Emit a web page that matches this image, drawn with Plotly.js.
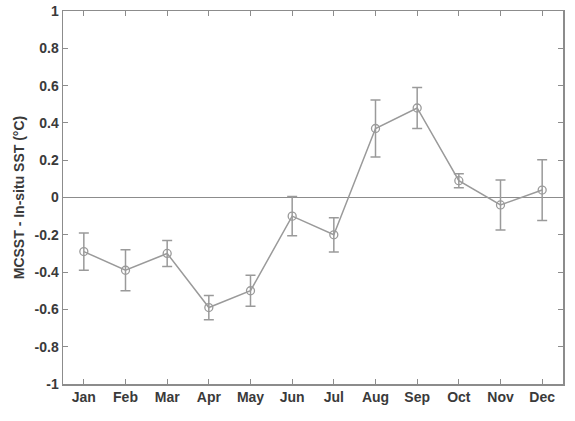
<!DOCTYPE html>
<html lang="en">
<head>
    <meta charset="UTF-8">
    <title>MCSST - In-situ SST</title>
    <script src="https://cdn.plot.ly/plotly-3.0.1.min.js"></script>
    <style>
        html, body { margin: 0; padding: 0; background: #fff; }
        #plot { width: 575px; height: 421px; }
    </style>
</head>
<body>
    <div id="plot"></div>
    <script>
        // monthly mean bias and its error bar half-width
        const months = ['Jan', 'Feb', 'Mar', 'Apr', 'May', 'Jun', 'Jul', 'Aug', 'Sep', 'Oct', 'Nov', 'Dec'];
        const monthIndex = [1, 2, 3, 4, 5, 6, 7, 8, 9, 10, 11, 12];
        const meanBias = [-0.29, -0.39, -0.30, -0.59, -0.50, -0.10, -0.20, 0.37, 0.48, 0.09, -0.04, 0.04];
        const errorHalf = [0.10, 0.11, 0.07, 0.065, 0.083, 0.105, 0.092, 0.153, 0.11, 0.038, 0.134, 0.163];
        const yTicks = [-1, -0.8, -0.6, -0.4, -0.2, 0, 0.2, 0.4, 0.6, 0.8, 1];

        const grey = '#9a9a9a';
        const axisGrey = '#8c8c8c';

        const trace = {
            x: monthIndex,
            y: meanBias,
            type: 'scatter',
            mode: 'lines+markers',
            line: { color: grey, width: 1.5 },
            marker: { symbol: 'circle-open', size: 8, color: grey, line: { width: 1.3 } },
            error_y: {
                type: 'data',
                array: errorHalf,
                visible: true,
                color: grey,
                thickness: 1.5,
                width: 5
            },
            showlegend: false,
            hoverinfo: 'skip'
        };

        const labelFont = { family: 'Liberation Sans, Arial, sans-serif', size: 14, color: '#3a3a3a', weight: 'bold' };

        const layout = {
            width: 575,
            height: 421,
            margin: { l: 63, r: 12, t: 11, b: 37 },
            paper_bgcolor: '#fff',
            plot_bgcolor: '#fff',
            xaxis: {
                range: [0.5, 12.5],
                tickmode: 'array',
                tickvals: monthIndex,
                ticktext: months,
                ticks: 'inside',
                ticklen: 5,
                tickcolor: axisGrey,
                showline: true,
                linecolor: axisGrey,
                linewidth: 1.5,
                mirror: 'ticks',
                showgrid: false,
                zeroline: false,
                tickfont: labelFont
            },
            yaxis: {
                range: [-1, 1],
                tickmode: 'array',
                tickvals: yTicks,
                ticktext: yTicks.map(v => String(v)),
                ticks: 'inside',
                ticklen: 5,
                tickcolor: axisGrey,
                showline: true,
                linecolor: axisGrey,
                linewidth: 1.5,
                mirror: 'ticks',
                showgrid: false,
                zeroline: true,
                zerolinecolor: axisGrey,
                zerolinewidth: 1.5,
                tickfont: labelFont,
                title: {
                    text: 'MCSST - In-situ SST (°C)',
                    font: labelFont,
                    standoff: 6
                }
            }
        };

        Plotly.newPlot('plot', [trace], layout, { displayModeBar: false, staticPlot: true });
    </script>
</body>
</html>
